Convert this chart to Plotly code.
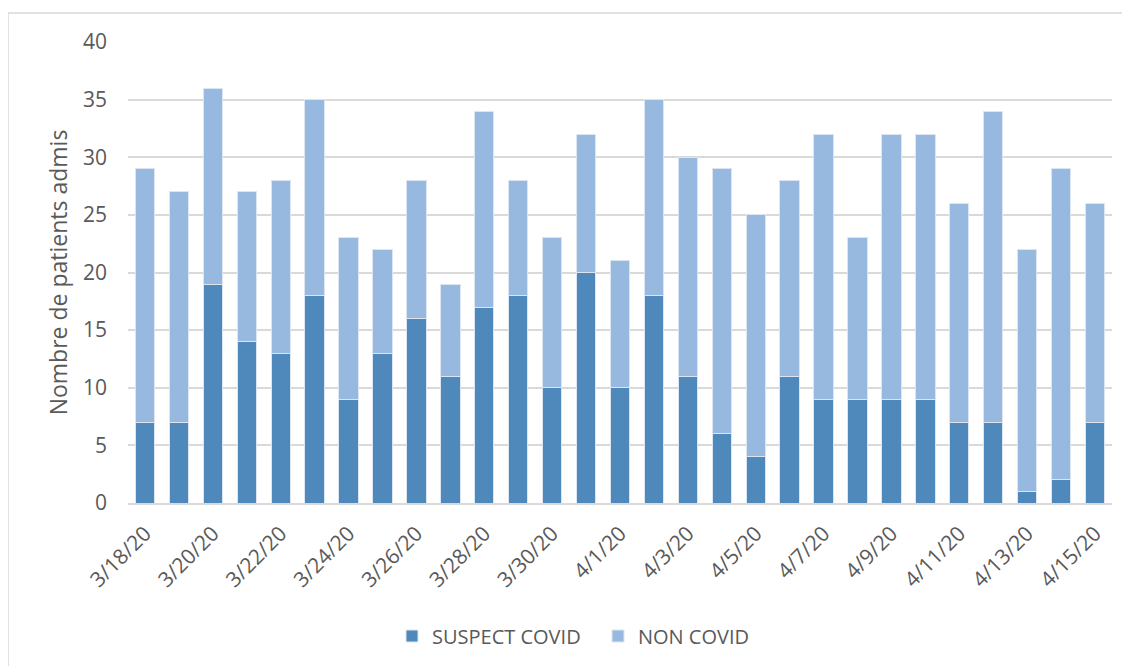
import plotly.graph_objects as go

dates = ["3/18/20","3/19/20","3/20/20","3/21/20","3/22/20","3/23/20","3/24/20","3/25/20",
         "3/26/20","3/27/20","3/28/20","3/29/20","3/30/20","3/31/20","4/1/20","4/2/20",
         "4/3/20","4/4/20","4/5/20","4/6/20","4/7/20","4/8/20","4/9/20","4/10/20",
         "4/11/20","4/12/20","4/13/20","4/14/20","4/15/20"]
suspect = [7,7,19,14,13,18,9,13,16,11,17,18,10,20,10,18,11,6,4,11,9,9,9,9,7,7,1,2,7]
totals = [29,27,36,27,28,35,23,22,28,19,34,28,23,32,21,35,30,29,25,28,32,23,32,32,26,34,22,29,26]
non_covid = [t - s for t, s in zip(totals, suspect)]
tick_labels = dates[::2]

text_color = "#595959"
font_family = "Open Sans, Noto Sans, sans-serif"

# page body has an 8px margin: figure is drawn from (8, 8) of the window
W, H = 1122, 658
L, R, T, B = 120, 18, 34, 162
PW, PH = W - L - R, H - T - B

fig = go.Figure()
fig.add_trace(go.Bar(x=dates, y=suspect, name="SUSPECT COVID",
                     marker=dict(color="#4F89BC", line=dict(color="#DCE6F2", width=1))))
fig.add_trace(go.Bar(x=dates, y=non_covid, name="NON COVID",
                     marker=dict(color="#98B9DF", line=dict(color="#DCE6F2", width=1))))

fig.update_layout(
    barmode="stack",
    bargap=0.43,
    width=W, height=H,
    margin=dict(l=L, r=R, t=T, b=B),
    paper_bgcolor="white", plot_bgcolor="white",
    font=dict(family=font_family, color=text_color, size=20),
    legend=dict(orientation="h", x=(590 - L) / PW, xanchor="center",
                y=(H - B - 628) / PH, yanchor="middle",
                entrywidth=161, entrywidthmode="pixels",
                font=dict(size=20, color=text_color), traceorder="normal"),
    xaxis=dict(type="category", tickmode="array", tickvals=tick_labels, ticktext=tick_labels,
               tickangle=-45, showgrid=False, showline=True, linecolor="#D9D9D9", linewidth=2,
               ticks="", automargin=False, ticklabelstandoff=8,
               tickfont=dict(size=21, color=text_color)),
    yaxis=dict(range=[0, 40], dtick=5, showgrid=True, gridcolor="#D9D9D9", gridwidth=1.5,
               zeroline=False, showline=False, ticks="", ticklabelstandoff=20, automargin=False,
               tickfont=dict(size=21, color=text_color),
               title=dict(text="Nombre de patients admis", font=dict(size=23, color=text_color), standoff=8)),
    shapes=[dict(type="rect", xref="paper", yref="paper",
                 x0=(0 - L) / PW, x1=(W + 20 - L) / PW,
                 y0=(H - B - (H + 20)) / PH, y1=(H - B - 5) / PH,
                 line=dict(color="#D9D9D9", width=1.5), fillcolor="rgba(0,0,0,0)")],
)

fig.write_html("out.html")
